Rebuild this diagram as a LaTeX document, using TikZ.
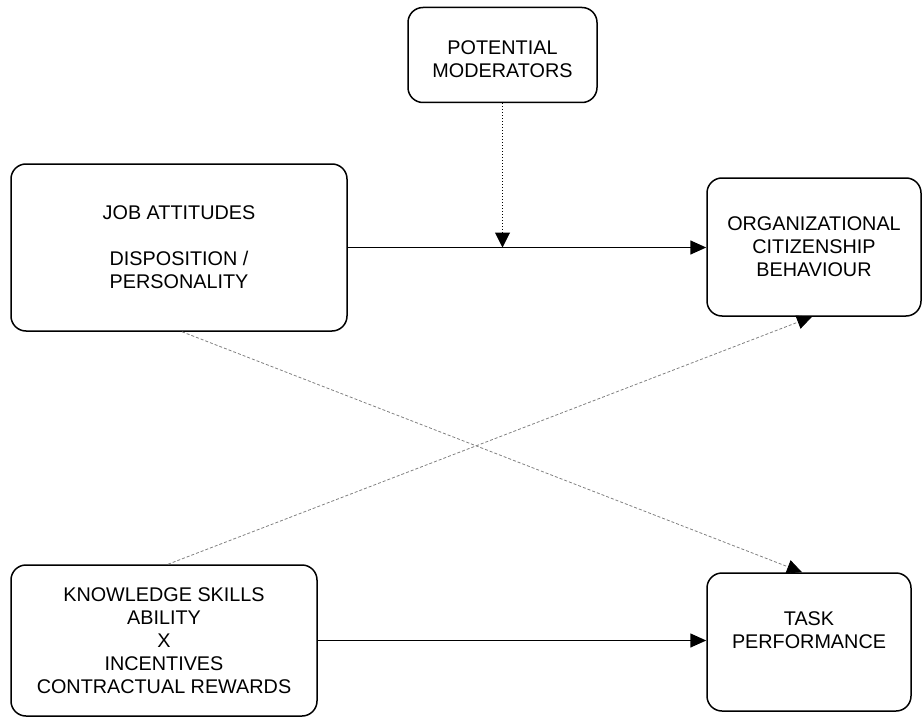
\documentclass[tikz,border=0pt]{standalone}
\usepackage{fontspec}
\setmainfont{Liberation Sans}
\usetikzlibrary{arrows.meta}

\begin{document}
\begin{tikzpicture}[x=1pt,y=-1pt,
	box/.style={draw,line width=1.5pt,rounded corners=15pt,align=center,inner sep=0pt,
		font=\fontsize{19.8}{23}\selectfont},
	link/.style={line width=1.5pt,-{Triangle[length=16pt,width=14pt]}},
	modlink/.style={line width=1pt,dotted,-{Triangle[length=15pt,width=15pt]}},
	cross/.style={line width=0.8pt,gray,dash pattern=on 3pt off 2pt,-{Triangle[length=15pt,width=14pt,black]}}]
		\useasboundingbox (0,0) rectangle (922,717);
		\node[box,minimum width=189,minimum height=95] (mod) at (502.5,55) {\mbox{}\\POTENTIAL\\MODERATORS};
		\node[box,minimum width=336,minimum height=167] (job) at (179,247.5) {JOB ATTITUDES\\ \\DISPOSITION /\\PERSONALITY};
		\node[box,minimum width=214,minimum height=138] (ocb) at (814,247) {ORGANIZATIONAL\\CITIZENSHIP\\BEHAVIOUR};
		\node[box,minimum width=306,minimum height=151] (ksa) at (164,640.5) {KNOWLEDGE SKILLS\\ABILITY\\X\\INCENTIVES\\CONTRACTUAL REWARDS};
		\node[box,minimum width=204,minimum height=138] (task) at (809,642) {TASK\\PERFORMANCE\\\mbox{}};
		\coordinate (meet) at (mod.south |- job.east);
		\draw[link] (job.east) -- (job.east -| ocb.west);
		\draw[modlink] (mod.south) -- (meet);
		\draw[link] (ksa.east) -- (ksa.east -| task.west);
		\draw[cross] ([xshift=3pt]job.south) -- ([xshift=-7pt]task.north);
		\draw[cross] ([xshift=4pt]ksa.north) -- ([xshift=-2pt]ocb.south);
	\end{tikzpicture}
\end{document}
